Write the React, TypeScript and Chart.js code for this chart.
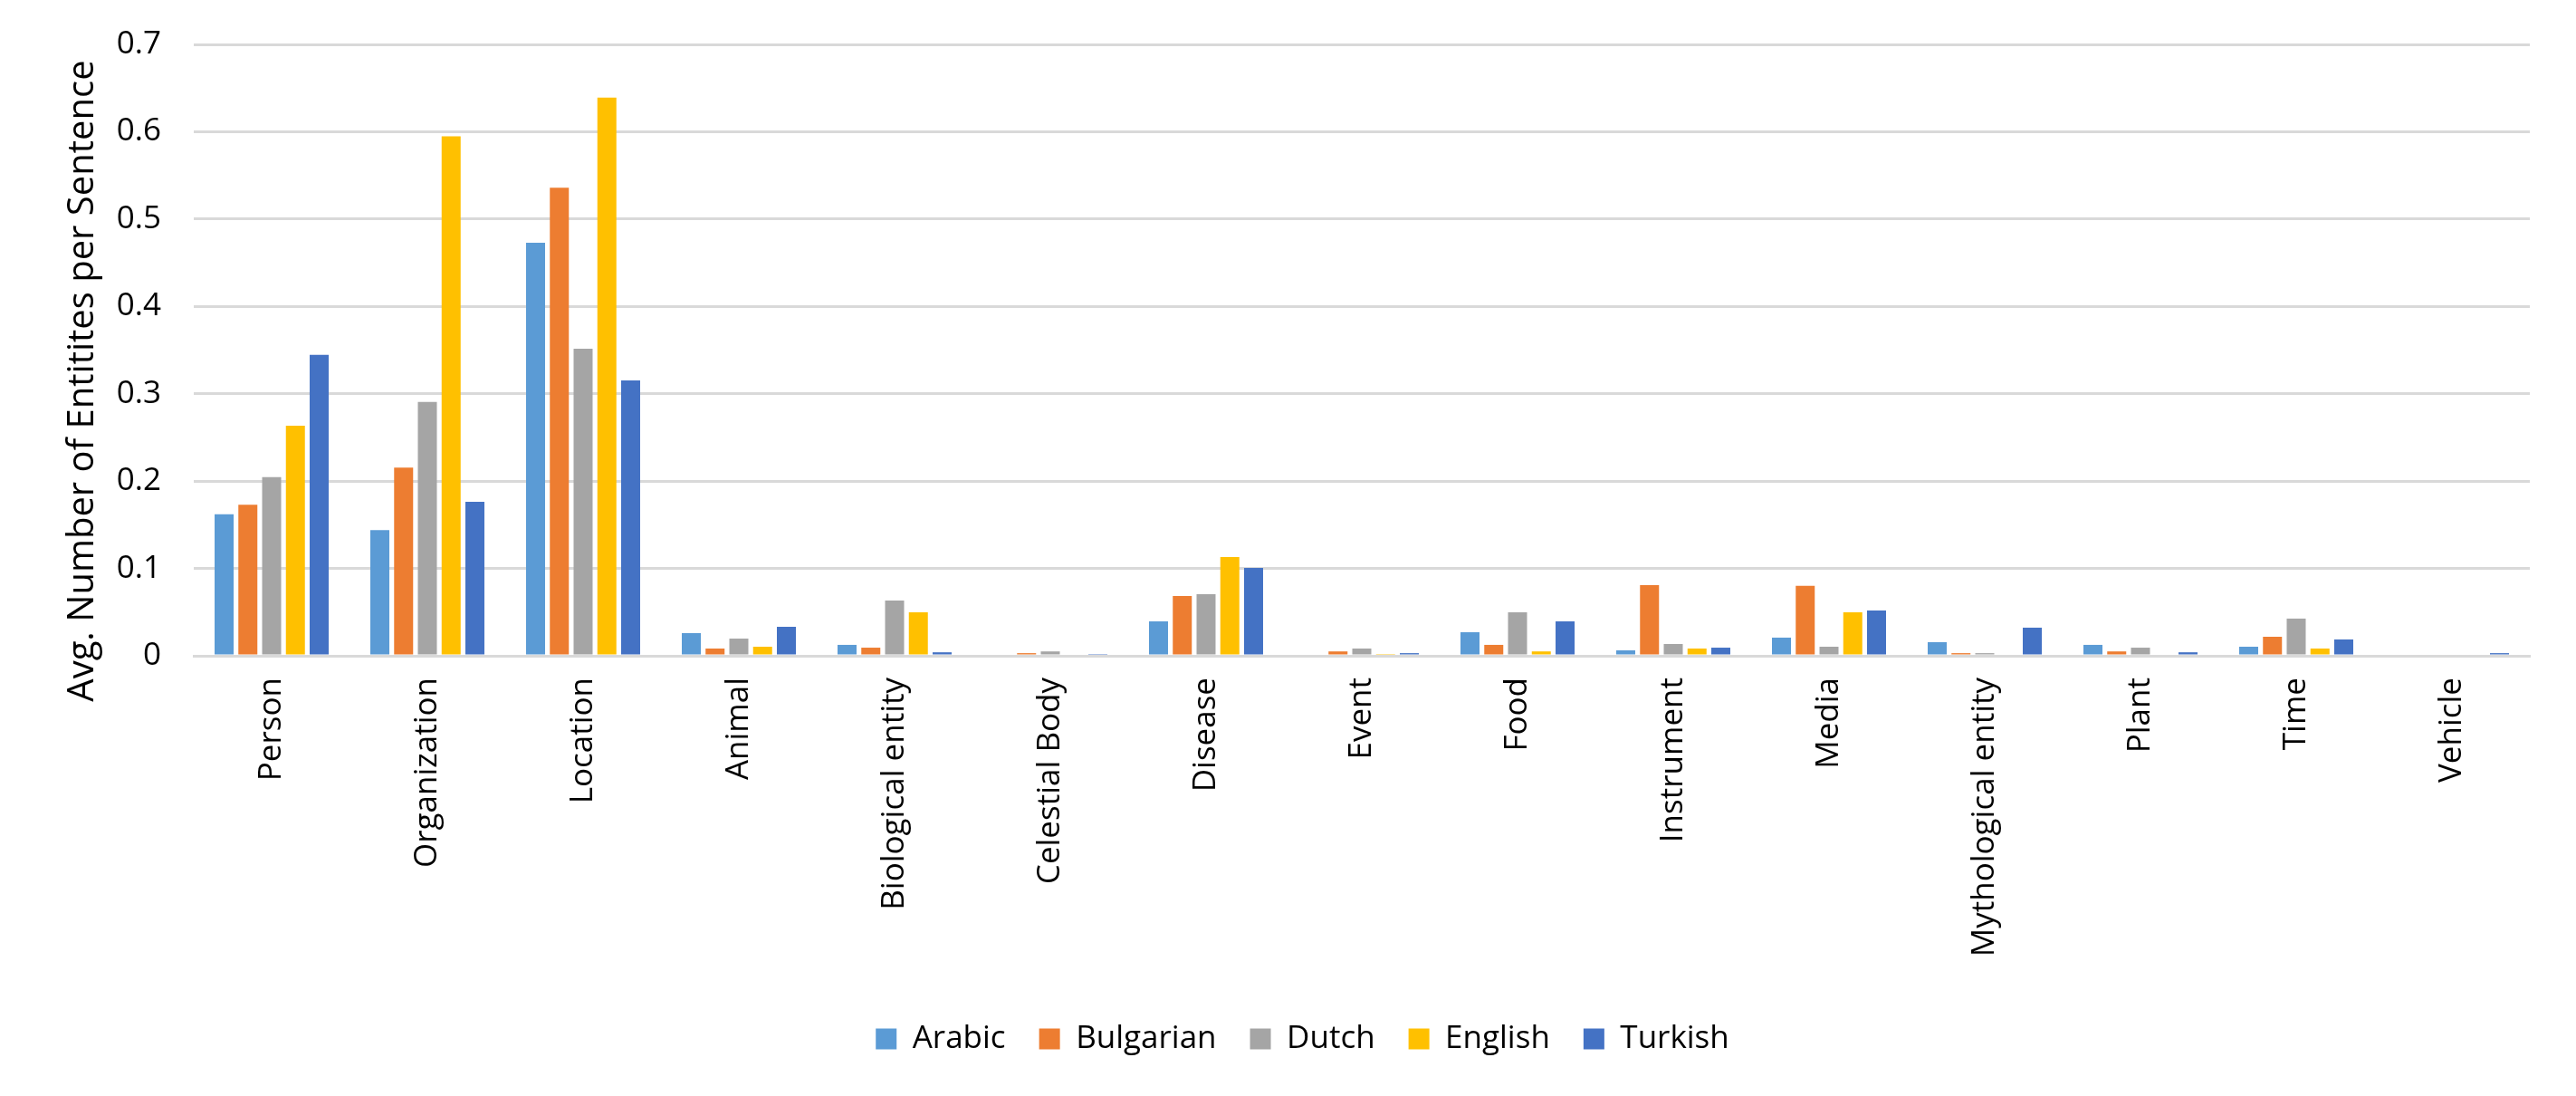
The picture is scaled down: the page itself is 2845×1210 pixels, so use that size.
import React, { useEffect, useRef } from "react";
import { Chart, registerables } from "chart.js";

Chart.register(...registerables);

const categories = [
  "Person",
  "Organization",
  "Location",
  "Animal",
  "Biological entity",
  "Celestial Body",
  "Disease",
  "Event",
  "Food",
  "Instrument",
  "Media",
  "Mythological entity",
  "Plant",
  "Time",
  "Vehicle",
];

const arabic = [0.162, 0.144, 0.473, 0.026, 0.0125, 0, 0.0394, 0, 0.027, 0.0062, 0.0208, 0.0156, 0.0125, 0.0104, 0];
const bulgarian = [0.173, 0.2155, 0.536, 0.0083, 0.0093, 0.003, 0.0685, 0.005, 0.0125, 0.081, 0.08, 0.003, 0.005, 0.0218, 0];
const dutch = [0.2045, 0.2906, 0.3515, 0.0197, 0.0633, 0.005, 0.0706, 0.0083, 0.0498, 0.0135, 0.0104, 0.003, 0.0093, 0.0426, 0];
const english = [0.2634, 0.5947, 0.639, 0.0104, 0.0498, 0, 0.1131, 0.002, 0.005, 0.0083, 0.0498, 0, 0, 0.0083, 0];
const turkish = [0.3445, 0.1763, 0.3153, 0.0332, 0.004, 0.002, 0.1007, 0.003, 0.0394, 0.0093, 0.0519, 0.0322, 0.004, 0.0187, 0.003];

const seriesNames = ["Arabic", "Bulgarian", "Dutch", "English", "Turkish"];
const seriesColors = ["#5B9BD5", "#ED7D31", "#A5A5A5", "#FFC000", "#4472C4"];

const yAxisTitle = "Avg. Number of Entitites per Sentence";
const yMin = 0;
const yMax = 0.7;
const yStep = 0.1;

const FONT = "'Open Sans', 'DejaVu Sans', sans-serif";

const yTitlePlugin = {
  id: "yTitlePlugin",
  afterDraw(chart: any) {
    const { ctx, chartArea } = chart;
    ctx.save();
    ctx.font = `40px ${FONT}`;
    ctx.fillStyle = "#000000";
    ctx.textAlign = "center";
    ctx.textBaseline = "middle";
    ctx.translate(92, (chartArea.top + chartArea.bottom) / 2 + 34);
    ctx.rotate(-Math.PI / 2);
    ctx.fillText(yAxisTitle, 0, 0);
    ctx.restore();
  },
};

export default function App() {
  const canvasRef = useRef<HTMLCanvasElement | null>(null);

  useEffect(() => {
    document.body.style.margin = "0";
    const canvas = canvasRef.current;
    if (!canvas) return;
    const values = [arabic, bulgarian, dutch, english, turkish];
    const chart = new Chart(canvas, {
      type: "bar",
      data: {
        labels: categories,
        datasets: seriesNames.map((name, i) => ({
          label: name,
          data: values[i],
          backgroundColor: seriesColors[i],
          borderWidth: 0,
          categoryPercentage: 0.763,
          barPercentage: 0.8,
        })),
      },
      options: {
        responsive: false,
        animation: false,
        devicePixelRatio: 1,
        layout: {
          padding: { left: 83, right: 51, top: 49, bottom: 35.5 },
        },
        plugins: {
          legend: {
            display: true,
            position: "bottom",
            labels: {
              boxWidth: 23,
              boxHeight: 23,
              padding: 37,
              color: "#000000",
              font: { family: FONT, size: 35 },
            },
          },
          tooltip: { enabled: false },
          title: { display: false },
        },
        scales: {
          x: {
            grid: { display: false, drawTicks: false },
            border: { display: true, color: "#D9D9D9", width: 3 },
            ticks: {
              color: "#000000",
              font: { family: FONT, size: 35 },
              maxRotation: 90,
              minRotation: 90,
              autoSkip: false,
              padding: 24,
            },
            afterFit(scale: any) {
              scale.height = 368.5;
            },
          },
          y: {
            min: yMin,
            max: yMax,
            grid: { color: "#D9D9D9", lineWidth: 3, drawTicks: false },
            border: { display: false },
            ticks: {
              stepSize: yStep,
              color: "#000000",
              font: { family: FONT, size: 35 },
              padding: 36,
              callback: (v: any) => (Math.abs(Number(v)) < 1e-9 ? "0" : Number(v).toFixed(1)),
            },
            afterFit(scale: any) {
              scale.width = 131;
              scale.paddingTop = 0;
              scale.paddingBottom = 0;
            },
          },
        },
      },
      plugins: [yTitlePlugin],
    });
    return () => chart.destroy();
  }, []);

  return (
    <div style={{ position: "fixed", left: 0, top: 0, width: 2845, height: 1210, background: "#ffffff" }}>
      <canvas ref={canvasRef} width={2845} height={1210} style={{ display: "block" }} />
    </div>
  );
}
